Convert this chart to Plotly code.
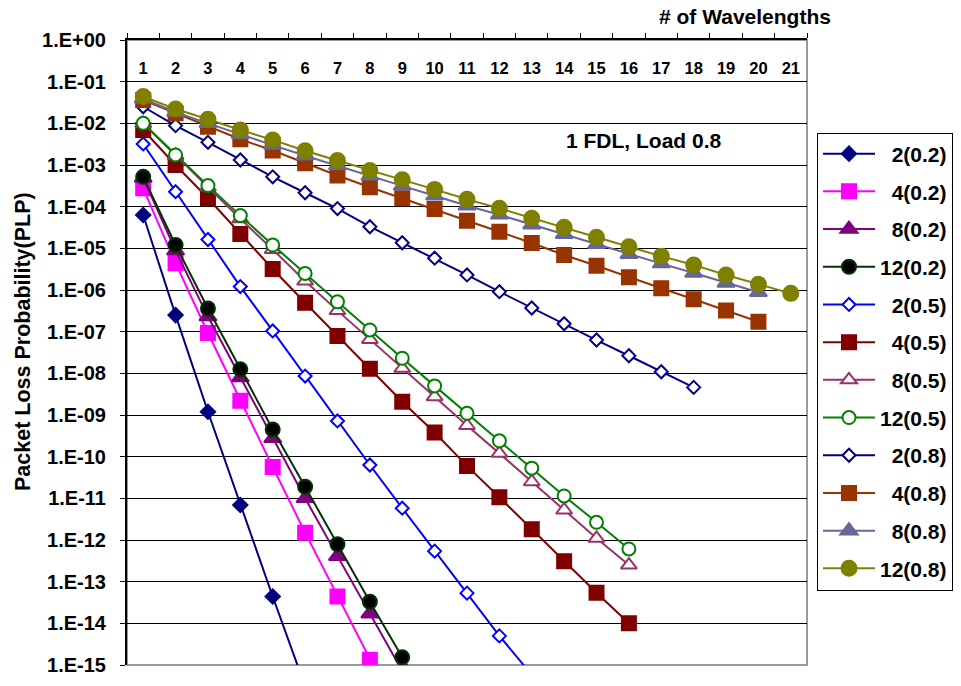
import plotly.graph_objects as go

# Number of wavelengths (x) and packet loss probability for each configuration
wavelengths = list(range(1, 22))

plp_2_02 = [6.3e-5, 2.5e-7, 1.2e-9, 6.9e-12, 4.4e-14, 3.1e-16]
plp_4_02 = [2.76e-4, 4.4e-6, 9.3e-8, 2.2e-9, 5.65e-11, 1.5e-12, 4.4e-14, 1.34e-15, 4.3e-17]
plp_8_02 = [4.9e-4, 8.8e-6, 2.3e-7, 7.9e-9, 2.76e-10, 1.0e-11, 4.1e-13, 1.7e-14, 7.2e-16]
plp_12_02 = [5.2e-4, 1.2e-5, 3.6e-7, 1.25e-8, 4.5e-10, 1.9e-11, 7.9e-13, 3.3e-14, 1.53e-15, 7.4e-17]

plp_2_05 = [3.2e-3, 2.29e-4, 1.63e-5, 1.21e-6, 1.04e-7, 8.6e-9, 7.2e-10, 6.3e-11, 5.8e-12,
            5.4e-13, 5.3e-14, 5.0e-15, 5.8e-16]
plp_4_05 = [6.9e-3, 1.0e-3, 1.59e-4, 2.2e-5, 3.2e-6, 4.95e-7, 7.9e-8, 1.29e-8, 2.08e-9,
            3.8e-10, 6.0e-11, 1.06e-11, 1.8e-12, 3.1e-13, 5.4e-14, 1.0e-14]
plp_8_05 = [9.9e-3, 1.69e-3, 2.96e-4, 5.1e-5, 9.4e-6, 1.64e-6, 3.2e-7, 6.5e-8, 1.32e-8,
            2.75e-9, 5.6e-10, 1.2e-10, 2.5e-11, 5.25e-12, 1.1e-12, 2.5e-13]
plp_12_05 = [1.0e-2, 1.74e-3, 3.2e-4, 6.1e-5, 1.2e-5, 2.5e-6, 5.2e-7, 1.1e-7, 2.3e-8,
             5.0e-9, 1.1e-9, 2.4e-10, 5.3e-11, 1.14e-11, 2.66e-12, 6.1e-13]

plp_2_08 = [2.5e-2, 8.8e-3, 3.5e-3, 1.32e-3, 5.2e-4, 2.16e-4, 9.0e-5, 3.3e-5, 1.36e-5,
            5.8e-6, 2.3e-6, 9.1e-7, 3.7e-7, 1.55e-7, 6.3e-8, 2.64e-8, 1.09e-8, 4.6e-9]
plp_4_08 = [3.63e-2, 1.74e-2, 8.3e-3, 4.14e-3, 2.23e-3, 1.1e-3, 5.6e-4, 2.92e-4, 1.59e-4,
            8.8e-5, 4.6e-5, 2.5e-5, 1.34e-5, 6.9e-6, 3.83e-6, 2.02e-6, 1.1e-6, 6.0e-7,
            3.2e-7, 1.73e-7]
plp_8_08 = [3.9e-2, 1.86e-2, 1.0e-2, 5.4e-3, 3.0e-3, 1.67e-3, 9.7e-4, 5.5e-4, 3.16e-4,
            1.82e-4, 1.05e-4, 6.4e-5, 3.7e-5, 2.18e-5, 1.25e-5, 7.2e-6, 4.3e-6, 2.57e-6,
            1.48e-6, 8.8e-7]
plp_12_08 = [4.4e-2, 2.2e-2, 1.25e-2, 6.9e-3, 4.0e-3, 2.2e-3, 1.28e-3, 7.4e-4, 4.4e-4,
             2.6e-4, 1.5e-4, 9.1e-5, 5.3e-5, 3.2e-5, 1.84e-5, 1.09e-5, 6.5e-6, 4.0e-6,
             2.3e-6, 1.37e-6, 8.3e-7]

series_names = ["2(0.2)", "4(0.2)", "8(0.2)", "12(0.2)",
                "2(0.5)", "4(0.5)", "8(0.5)", "12(0.5)",
                "2(0.8)", "4(0.8)", "8(0.8)", "12(0.8)"]
series_values = [plp_2_02, plp_4_02, plp_8_02, plp_12_02,
                 plp_2_05, plp_4_05, plp_8_05, plp_12_05,
                 plp_2_08, plp_4_08, plp_8_08, plp_12_08]

y_exponents = list(range(0, -16, -1))
y_tick_text = ["1.E+00"] + ["1.E-%02d" % (-e) for e in y_exponents[1:]]

# (line colour, marker symbol, marker fill, marker outline, marker size)
styles = [
    ("#000080", "diamond", "#000080", "#000080", 11),
    ("#FF00FF", "square", "#FF00FF", "#FF00FF", 14),
    ("#800080", "triangle-up", "#800080", "#800080", 15),
    ("#003300", "circle", "#000000", "#003300", 14),
    ("#0000FF", "diamond", "#FFFFFF", "#0000FF", 10),
    ("#800000", "square", "#800000", "#800000", 14),
    ("#993366", "triangle-up", "#FFFFFF", "#993366", 14),
    ("#008000", "circle", "#FFFFFF", "#008000", 13),
    ("#000080", "diamond", "#FFFFFF", "#000080", 10),
    ("#993300", "square", "#993300", "#993300", 14),
    ("#666699", "triangle-up", "#666699", "#666699", 15),
    ("#808000", "circle", "#808000", "#808000", 15),
]

FONT = "Liberation Sans, Arial, sans-serif"

fig = go.Figure()
for name, vals, (lc, sym, fill, edge, size) in zip(series_names, series_values, styles):
    label = name if name.startswith("12") else "\u00a0\u00a0" + name
    fig.add_trace(go.Scatter(
        x=wavelengths[:len(vals)], y=vals, name=label, legendgroup=name,
        mode="lines+markers",
        line=dict(color=lc, width=2),
        marker=dict(symbol=sym, size=size, color=fill,
                    line=dict(color=edge, width=2)),
    ))

# empty helper trace so the overlaid label axis (x2) gets drawn
fig.add_trace(go.Scatter(x=wavelengths, y=[None] * len(wavelengths), xaxis="x2",
                         mode="markers", showlegend=False, hoverinfo="skip"))

fig.update_layout(
    width=961, height=686,
    margin=dict(l=127, r=154, t=40, b=21, autoexpand=False),
    paper_bgcolor="white", plot_bgcolor="white",
    font=dict(family=FONT, color="black", weight="bold"),
    showlegend=True,
    legend=dict(x=1.0147, xanchor="left", y=0.852, yanchor="top",
                bgcolor="white", bordercolor="black", borderwidth=1,
                font=dict(family=FONT, size=21, weight="bold"),
                traceorder="grouped", tracegroupgap=7.4, itemwidth=52),
    # top axis line with tick marks between the wavelength columns
    xaxis=dict(
        range=[0.5, 21.5], side="top", tickmode="linear", tick0=1, dtick=1,
        ticks="", showticklabels=False,
        showgrid=False, zeroline=False,
        showline=True, linecolor="black", linewidth=2,
        minor=dict(ticks="outside", tick0=0.5, dtick=1, ticklen=5,
                   tickcolor="black", tickwidth=1, showgrid=False),
    ),
    # wavelength numbers, printed just under the top axis line
    xaxis2=dict(
        overlaying="x", matches="x", anchor="free", position=0.94, side="top",
        tickmode="linear", tick0=1, dtick=1, ticks="",
        tickfont=dict(family=FONT, size=16.5, weight="bold"),
        showgrid=False, zeroline=False, showline=False,
    ),
    yaxis=dict(
        type="log", range=[-15, 0],
        tickmode="array", tickvals=[10.0 ** e for e in y_exponents], ticktext=y_tick_text,
        ticks="outside", ticklen=5, tickcolor="black", ticklabelstandoff=10,
        tickfont=dict(family=FONT, size=20, weight="bold"),
        showgrid=True, gridcolor="black", gridwidth=1,
        showline=True, linecolor="black", linewidth=2, zeroline=False,
    ),
    shapes=[dict(type="rect", xref="paper", yref="paper", x0=0, x1=1, y0=0, y1=1,
                 line=dict(color="#999999", width=2), layer="below")],
    annotations=[
        dict(text="# of Wavelengths", xref="paper", yref="paper", x=0.909, y=1.0373,
             xanchor="center", yanchor="middle", showarrow=False,
             font=dict(family=FONT, size=21, weight="bold")),
        dict(text="1 FDL, Load 0.8", xref="paper", yref="paper", x=0.7607, y=0.84,
             xanchor="center", yanchor="middle", showarrow=False,
             font=dict(family=FONT, size=21, weight="bold")),
        dict(text="Packet Loss Probability(PLP)", xref="paper", yref="paper",
             x=-0.1537, y=0.5176, xanchor="center", yanchor="middle", textangle=-90,
             showarrow=False, font=dict(family=FONT, size=21.5, weight="bold")),
    ],
)

fig.write_html("out.html")
